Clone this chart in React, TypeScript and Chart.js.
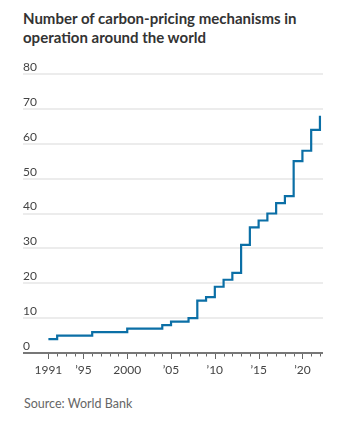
import React, { useEffect, useRef } from 'react';
import { Chart, registerables } from 'chart.js';

Chart.register(...registerables);

const titleText = 'Number of carbon-pricing mechanisms in operation around the world';
const sourceText = 'Source: World Bank';

const years = [
  1991, 1992, 1993, 1994, 1995, 1996, 1997, 1998, 1999, 2000,
  2001, 2002, 2003, 2004, 2005, 2006, 2007, 2008, 2009, 2010,
  2011, 2012, 2013, 2014, 2015, 2016, 2017, 2018, 2019, 2020,
  2021, 2022,
];
const mechanisms = [
  4, 5, 5, 5, 5, 6, 6, 6, 6, 7,
  7, 7, 7, 8, 9, 9, 10, 15, 16, 19,
  21, 23, 31, 36, 38, 40, 43, 45, 55, 58,
  64, 68,
];
const xTickYears = [1991, 1995, 2000, 2005, 2010, 2015, 2020];
const xTickLabels = ['1991', '\u201995', '2000', '\u201905', '\u201910', '\u201915', '\u201920'];
const yTicks = [0, 10, 20, 30, 40, 50, 60, 70, 80];

const FONT = 'Lato, "Noto Sans", sans-serif';

const tickMarks = {
  id: 'tickMarks',
  afterDraw(chart: any) {
    const ctx = chart.ctx;
    const xs = chart.scales.x;
    const y0 = chart.scales.y.getPixelForValue(0);
    ctx.save();
    ctx.strokeStyle = '#666';
    ctx.lineWidth = 1;
    years.forEach((yr) => {
      const px = Math.round(xs.getPixelForValue(yr)) + 0.5;
      const len = xTickYears.includes(yr) ? 5 : 2.5;
      ctx.beginPath();
      ctx.moveTo(px, y0 + 1);
      ctx.lineTo(px, y0 + 1 + len);
      ctx.stroke();
    });
    ctx.restore();
  },
};

function CarbonChart() {
  const ref = useRef<HTMLCanvasElement | null>(null);
  useEffect(() => {
    if (!ref.current) return;
    const chart = new Chart(ref.current, {
      type: 'line',
      data: {
        datasets: [
          {
            data: years.map((yr, i) => ({ x: yr, y: mechanisms[i] })),
            stepped: 'before',
            borderColor: '#0b6fa6',
            borderWidth: 2.2,
            pointRadius: 0,
            fill: false,
          },
        ],
      },
      options: {
        animation: false,
        responsive: true,
        maintainAspectRatio: false,
        layout: { padding: { left: 15, right: 19, top: 27, bottom: 0 } },
        plugins: { legend: { display: false }, tooltip: { enabled: false } },
        scales: {
          x: {
            type: 'linear',
            min: 1988.1,
            max: 2022.35,
            border: { display: false },
            grid: { display: false, drawTicks: false },
            afterBuildTicks: (scale: any) => {
              scale.ticks = xTickYears.map((v) => ({ value: v }));
            },
            afterFit: (scale: any) => {
              scale.height = 28;
            },
            ticks: {
              autoSkip: false,
              maxRotation: 0,
              padding: 10,
              color: '#444',
              font: { family: FONT, size: 12 },
              callback: (v: any) => {
                const i = xTickYears.indexOf(Number(v));
                return i >= 0 ? xTickLabels[i] : '';
              },
            },
          },
          y: {
            min: 0,
            max: 80,
            border: { display: false },
            afterBuildTicks: (scale: any) => {
              scale.ticks = yTicks.map((v) => ({ value: v }));
            },
            afterFit: (scale: any) => {
              scale.width = 0;
            },
            grid: {
              drawTicks: false,
              lineWidth: 2,
              color: (c: any) => (c.tick && c.tick.value === 0 ? '#777' : '#ececec'),
            },
            ticks: {
              mirror: true,
              padding: 0,
              labelOffset: -7,
              color: '#444',
              font: { family: FONT, size: 12 },
              callback: (v: any) => String(v),
            },
          },
        },
      },
      plugins: [tickMarks],
    });
    return () => chart.destroy();
  }, []);
  return (
    <div style={{ position: 'relative', height: 334 }}>
      <canvas ref={ref} />
    </div>
  );
}

export default function App() {
  return (
    <div style={{ fontFamily: FONT }}>
      <div
        style={{
          boxSizing: 'border-box',
          height: 39,
          paddingTop: 1,
          paddingLeft: 15,
          paddingRight: 20,
          font: `bold 15px/19px ${FONT}`,
          color: '#333',
        }}
      >
        {titleText}
      </div>
      <CarbonChart />
      <div style={{ marginTop: 15, paddingLeft: 16, fontSize: 12.5, color: '#666' }}>{sourceText}</div>
    </div>
  );
}
